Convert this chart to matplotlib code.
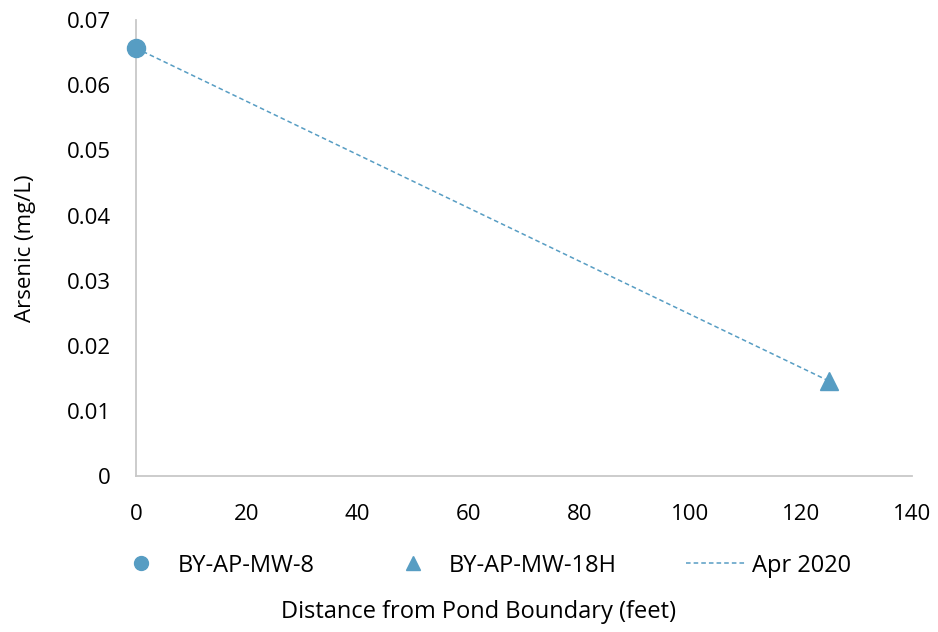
import matplotlib
matplotlib.use('Agg')
import matplotlib.pyplot as plt
from matplotlib.lines import Line2D

# Data
wells = ['BY-AP-MW-8', 'BY-AP-MW-18H']
distance = [0, 125]
arsenic = [0.0657, 0.0146]
markers = ['o', '^']
series_label = 'Apr 2020'

color = '#579dc3'
plt.rcParams['font.family'] = ['Open Sans', 'DejaVu Sans']

fig = plt.figure(figsize=(9.38, 6.32), dpi=100)
ax = fig.add_axes([0.145, 0.247, 0.827, 0.721])

# trend line between the two wells
ax.plot(distance, arsenic, linestyle=(0, (3, 2)), color=color, linewidth=1.1, zorder=2)
for x, y, m, name in zip(distance, arsenic, markers, wells):
    ax.plot(x, y, marker=m, markersize=13, color=color, linestyle='none', zorder=3, clip_on=False)

ax.set_xlim(0, 140)
ax.set_ylim(0, 0.07)
ax.set_xticks(range(0, 141, 20))
ax.set_yticks([0, 0.01, 0.02, 0.03, 0.04, 0.05, 0.06, 0.07])
ax.set_yticklabels(['0', '0.01', '0.02', '0.03', '0.04', '0.05', '0.06', '0.07'])
ax.tick_params(axis='y', length=0, labelsize=16, pad=18)
ax.tick_params(axis='x', length=0, labelsize=16, pad=20)
for s in ['top', 'right']:
    ax.spines[s].set_visible(False)
for s in ['left', 'bottom']:
    ax.spines[s].set_color('#c8c8c8')
    ax.spines[s].set_linewidth(1.3)

ax.set_ylabel('Arsenic (mg/L)', fontsize=16, labelpad=22)
fig.text(0.51, 0.022, 'Distance from Pond Boundary (feet)', ha='center', fontsize=17)

handles = [Line2D([], [], marker='o', color=color, linestyle='none', markersize=10),
           Line2D([], [], marker='^', color=color, linestyle='none', markersize=10),
           Line2D([], [], color=color, linestyle=(0, (3, 2)), linewidth=1.1)]
fig.legend(handles, wells + [series_label], loc='center', bbox_to_anchor=(0.513, 0.105),
           ncol=3, frameon=False, fontsize=17, columnspacing=2.9, handlelength=2.5,
           handletextpad=0.3)

fig.savefig('out.png', dpi=100)
